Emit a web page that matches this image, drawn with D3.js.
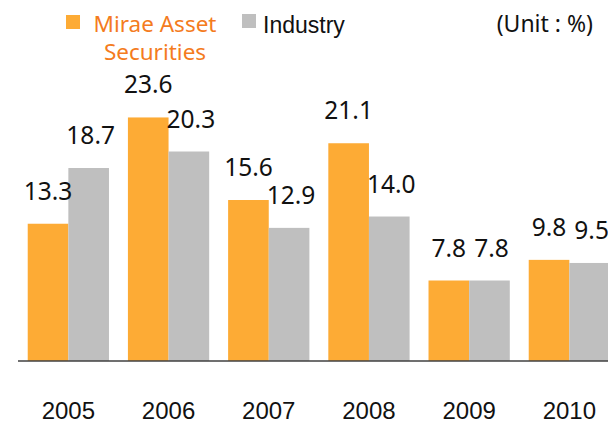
<!DOCTYPE html>
<html>
<head>
<meta charset="utf-8">
<script src="https://cdn.jsdelivr.net/npm/d3@7"></script>
<style>
  html, body { margin: 0; padding: 0; background: #ffffff; }
  svg { display: block; }
</style>
</head>
<body>
<svg id="chart" width="608" height="425"></svg>
<script>
const years = ["2005", "2006", "2007", "2008", "2009", "2010"];
const seriesNames = ["Mirae Asset Securities", "Industry"];
const mirae = [13.3, 23.6, 15.6, 21.1, 7.8, 9.8];
const industry = [18.7, 20.3, 12.9, 14.0, 7.8, 9.5];
const labelsMirae = ["13.3", "23.6", "15.6", "21.1", "7.8", "9.8"];
const labelsIndustry = ["18.7", "20.3", "12.9", "14.0", "7.8", "9.5"];
const colors = ["#FDAB35", "#BFBFBF"];

const svg = d3.select("#chart");
const baseY = 361;

const x0 = d3.scaleBand().domain(years).range([18, 619.7]).paddingInner(0.189).paddingOuter(0.097);
const x1 = d3.scaleBand().domain(seriesNames).range([0, x0.bandwidth()]);
const y = d3.scaleLinear().domain([0, 25]).range([baseY, baseY - 258]);

const rows = years.map((yr, i) => ({
  year: yr,
  vals: [
    {s: seriesNames[0], v: mirae[i], label: labelsMirae[i], c: colors[0], dx: 0},
    {s: seriesNames[1], v: industry[i], label: labelsIndustry[i], c: colors[1], dx: 2}
  ]
}));

const g = svg.append("g");
const groups = g.selectAll("g.grp").data(rows).join("g")
  .attr("class", "grp")
  .attr("transform", d => `translate(${x0(d.year)},0)`);

groups.selectAll("rect").data(d => d.vals).join("rect")
  .attr("x", d => x1(d.s))
  .attr("width", x1.bandwidth())
  .attr("y", d => y(d.v))
  .attr("height", d => baseY - y(d.v))
  .attr("fill", d => d.c);

groups.selectAll("text.val").data(d => d.vals).join("text")
  .attr("class", "val")
  .attr("x", d => x1(d.s) + x1.bandwidth() / 2 + d.dx)
  .attr("y", d => y(d.v) - 24)
  .attr("text-anchor", "middle")
  .attr("font-family", "'Noto Sans', 'Open Sans', sans-serif")
  .attr("font-size", 24.5)
  .attr("fill", "#111")
  .text(d => d.label);

// axis
const xAxis = d3.axisBottom(x0).tickSize(0).tickPadding(0);
const ax = svg.append("g").attr("transform", `translate(0,${baseY})`).call(xAxis);
ax.select(".domain").remove();
ax.selectAll("text")
  .attr("font-family", "'Liberation Sans', Arial, sans-serif")
  .attr("font-size", 24)
  .attr("fill", "#111")
  .attr("dy", 0)
  .attr("y", 58);
svg.append("line")
  .attr("x1", 18).attr("x2", 608)
  .attr("y1", baseY).attr("y2", baseY)
  .attr("stroke", "#404040").attr("stroke-width", 1.5);

// legend
const leg = svg.append("g");
leg.append("rect").attr("x", 66).attr("y", 15).attr("width", 14).attr("height", 14).attr("fill", colors[0]);
const lt = leg.append("text")
  .attr("font-family", "'Noto Sans', 'Open Sans', sans-serif")
  .attr("font-size", 22.5)
  .attr("fill", "#F47B20")
  .attr("text-anchor", "middle");
lt.append("tspan").attr("x", 155).attr("y", 32).text("Mirae Asset");
lt.append("tspan").attr("x", 155).attr("y", 60).text("Securities");

leg.append("rect").attr("x", 242).attr("y", 14).attr("width", 14).attr("height", 14).attr("fill", colors[1]);
leg.append("text")
  .attr("x", 263).attr("y", 33)
  .attr("font-family", "'Liberation Sans', Arial, sans-serif")
  .attr("font-size", 23)
  .attr("fill", "#111")
  .text(seriesNames[1]);

svg.append("text")
  .attr("x", 593).attr("y", 32)
  .attr("text-anchor", "end")
  .attr("font-family", "'Noto Sans', 'Open Sans', sans-serif")
  .attr("font-size", 23)
  .attr("fill", "#111")
  .text("(Unit : %)");
</script>
</body>
</html>
